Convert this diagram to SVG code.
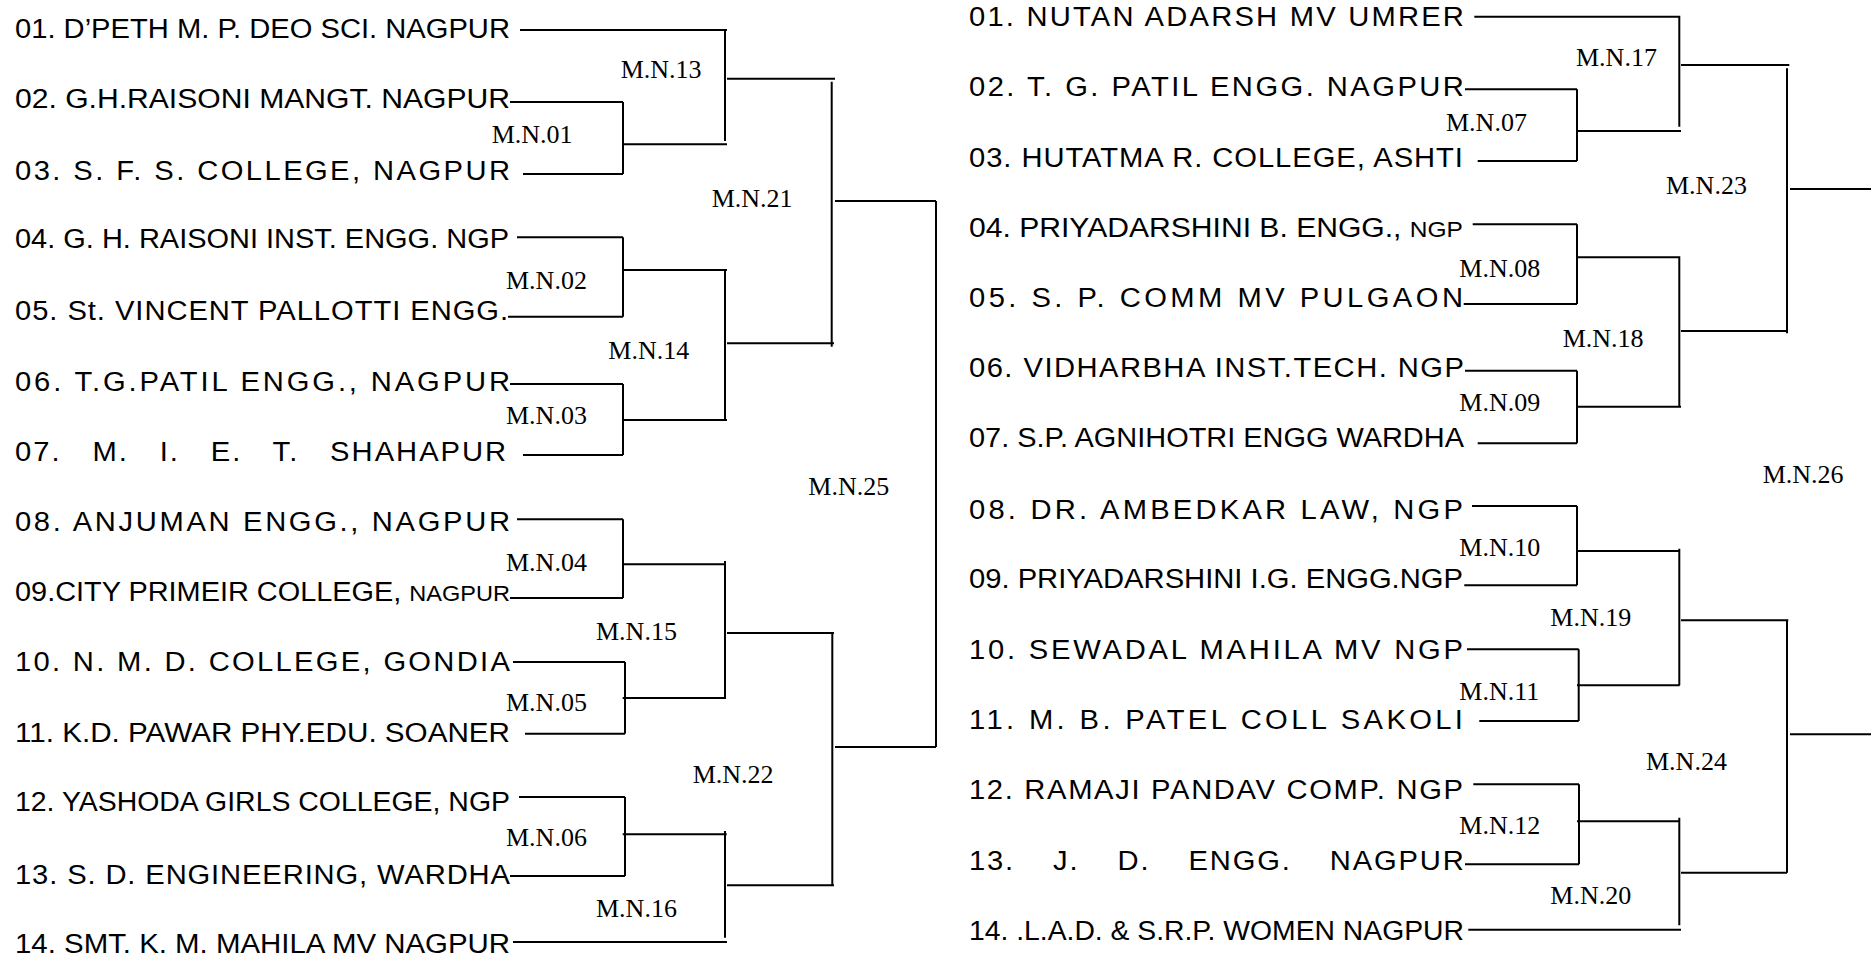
<svg xmlns="http://www.w3.org/2000/svg" width="1871" height="957" viewBox="0 0 1871 957">
<style>
.t{font-family:"Liberation Sans",Arial,sans-serif;font-size:27px;fill:#000}
.s{font-size:22px}
.m{font-family:"Liberation Serif","Times New Roman",serif;font-size:26px;fill:#000}
#connectors path{stroke:#000;stroke-width:2;fill:none}
</style>
<rect width="1871" height="957" fill="#fff"/>
<g id="connectors">
<path d="M520 30H727M725 30V141"/>
<path d="M510 102H623M523 174H623M623 102V174M623 144.3H727"/>
<path d="M727 78.7H835M831.7 81.7V346.7M835 201H936"/>
<path d="M517 237.3H623M508 316.7H623M623 237.3V316.7M623 270H727M725 270V420M727 343.3H834"/>
<path d="M510 384H623M523 455H623M623 384V455M623 420H727"/>
<path d="M936 201V747"/>
<path d="M517 519.3H623M510 598H623M623 519.3V598M623 564.3H726M725 561V698.7M727 633H834"/>
<path d="M513 662H625M525 733.7H625M625 662V733.7M622.7 698H726"/>
<path d="M832.3 633V885.3M835 747H936"/>
<path d="M519 797H625M510 876H625M625 797V876M622.7 834.3H726.7M725 831V937.7M727 885.3H834"/>
<path d="M513 942H727"/>
<path d="M1474.3 16.7H1680.3M1679.3 16.7V126.7M1681 65H1789.3"/>
<path d="M1465 89.3H1577M1477.7 161H1577M1577 89.3V161M1577 131H1681"/>
<path d="M1787 68.3V333.3M1790 189H1871"/>
<path d="M1472.7 224.3H1577M1463.7 304H1577M1577 224.3V304M1577 257.3H1680.3M1679.3 257.3V406.7M1681 331H1787.7"/>
<path d="M1465 370.7H1577M1477.7 443.3H1577M1577 370.7V443.3M1577 406.7H1681"/>
<path d="M1472 506H1577M1464.3 585.3H1577M1577 506V585.3M1577 551H1679.7M1679.3 548.7V685.3M1681 620.3H1788.3"/>
<path d="M1467 649.3H1578.7M1479.3 721H1578.7M1578.7 649.3V721M1577 685.3H1679.7"/>
<path d="M1787 620.3V872.7M1790 734.3H1871"/>
<path d="M1473.3 784.3H1579M1465 864.3H1579M1579 784.3V864.3M1577 821.3H1679.7M1679.3 817.7V925.3M1681 872.7H1787"/>
<path d="M1468.3 929.7H1681"/>
</g>
<g id="team-L01"><text class="t" transform="scale(1.08 1)" x="13.89" y="38.5" textLength="458.3" lengthAdjust="spacingAndGlyphs">01. D’PETH M. P. DEO SCI. NAGPUR</text></g>
<g id="team-L02"><text class="t" transform="scale(1.08 1)" x="13.89" y="108.5" textLength="458.3" lengthAdjust="spacingAndGlyphs">02. G.H.RAISONI MANGT. NAGPUR</text></g>
<g id="team-L03"><text class="t" transform="scale(1.08 1)" x="13.89" y="180" textLength="458.3" lengthAdjust="spacing">03. S. F. S. COLLEGE, NAGPUR</text></g>
<g id="team-L04"><text class="t" transform="scale(1.08 1)" x="13.89" y="248.5" textLength="457.4" lengthAdjust="spacingAndGlyphs">04. G. H. RAISONI INST. ENGG. NGP</text></g>
<g id="team-L05"><text class="t" transform="scale(1.08 1)" x="13.89" y="320" textLength="456.5" lengthAdjust="spacing">05. St. VINCENT PALLOTTI ENGG.</text></g>
<g id="team-L06"><text class="t" transform="scale(1.08 1)" x="13.89" y="390.7" textLength="458.3" lengthAdjust="spacing">06. T.G.PATIL ENGG., NAGPUR</text></g>
<g id="team-L07"><text class="t" transform="scale(1.08 1)" x="13.89" y="460.7" letter-spacing="1.86" word-spacing="19.2">07. M. I. E. T. SHAHAPUR</text></g>
<g id="team-L08"><text class="t" transform="scale(1.08 1)" x="13.89" y="531.3" textLength="458.3" lengthAdjust="spacing">08. ANJUMAN ENGG., NAGPUR</text></g>
<g id="team-L09"><text class="t" transform="scale(1.08 1)" x="13.89" y="601" textLength="458.3" lengthAdjust="spacingAndGlyphs">09.CITY PRIMEIR COLLEGE, <tspan class="s">NAGPUR</tspan></text></g>
<g id="team-L10"><text class="t" transform="scale(1.08 1)" x="13.89" y="671.3" textLength="458.3" lengthAdjust="spacing">10. N. M. D. COLLEGE, GONDIA</text></g>
<g id="team-L11"><text class="t" transform="scale(1.08 1)" x="13.89" y="742" textLength="458.3" lengthAdjust="spacingAndGlyphs">11. K.D. PAWAR PHY.EDU. SOANER</text></g>
<g id="team-L12"><text class="t" transform="scale(1.08 1)" x="13.89" y="811.3" textLength="458.3" lengthAdjust="spacingAndGlyphs">12. YASHODA GIRLS COLLEGE, NGP</text></g>
<g id="team-L13"><text class="t" transform="scale(1.08 1)" x="13.89" y="883.7" textLength="458.3" lengthAdjust="spacing">13. S. D. ENGINEERING, WARDHA</text></g>
<g id="team-L14"><text class="t" transform="scale(1.08 1)" x="13.89" y="953" textLength="458.3" lengthAdjust="spacingAndGlyphs">14. SMT. K. M. MAHILA MV NAGPUR</text></g>
<g id="team-R01"><text class="t" transform="scale(1.08 1)" x="897.2" y="26" textLength="458.3" lengthAdjust="spacing">01. NUTAN ADARSH MV UMRER</text></g>
<g id="team-R02"><text class="t" transform="scale(1.08 1)" x="897.2" y="96" textLength="458.3" lengthAdjust="spacing">02. T. G. PATIL ENGG. NAGPUR</text></g>
<g id="team-R03"><text class="t" transform="scale(1.08 1)" x="897.2" y="166.7" textLength="457.4" lengthAdjust="spacing">03. HUTATMA R. COLLEGE, ASHTI</text></g>
<g id="team-R04"><text class="t" transform="scale(1.08 1)" x="897.2" y="236.7" textLength="457.4" lengthAdjust="spacingAndGlyphs">04. PRIYADARSHINI B. ENGG., <tspan class="s">NGP</tspan></text></g>
<g id="team-R05"><text class="t" transform="scale(1.08 1)" x="897.2" y="307.3" textLength="457.4" lengthAdjust="spacing">05. S. P. COMM MV PULGAON</text></g>
<g id="team-R06"><text class="t" transform="scale(1.08 1)" x="897.2" y="376.7" textLength="458.3" lengthAdjust="spacing">06. VIDHARBHA INST.TECH. NGP</text></g>
<g id="team-R07"><text class="t" transform="scale(1.08 1)" x="897.2" y="446.7" textLength="458.3" lengthAdjust="spacingAndGlyphs">07. S.P. AGNIHOTRI ENGG WARDHA</text></g>
<g id="team-R08"><text class="t" transform="scale(1.08 1)" x="897.2" y="518.7" textLength="457.4" lengthAdjust="spacing">08. DR. AMBEDKAR LAW, NGP</text></g>
<g id="team-R09"><text class="t" transform="scale(1.08 1)" x="897.2" y="588" textLength="457.4" lengthAdjust="spacingAndGlyphs">09. PRIYADARSHINI I.G. ENGG.NGP</text></g>
<g id="team-R10"><text class="t" transform="scale(1.08 1)" x="897.2" y="658.7" textLength="457.4" lengthAdjust="spacing">10. SEWADAL MAHILA MV NGP</text></g>
<g id="team-R11"><text class="t" transform="scale(1.08 1)" x="897.2" y="729.3" textLength="457.4" lengthAdjust="spacing">11. M. B. PATEL COLL SAKOLI</text></g>
<g id="team-R12"><text class="t" transform="scale(1.08 1)" x="897.2" y="798.7" textLength="457.4" lengthAdjust="spacing">12. RAMAJI PANDAV COMP. NGP</text></g>
<g id="team-R13"><text class="t" transform="scale(1.08 1)" x="897.2" y="870.3" letter-spacing="1.7" word-spacing="26.1">13. J. D. ENGG. NAGPUR</text></g>
<g id="team-R14"><text class="t" transform="scale(1.08 1)" x="897.2" y="940.3" textLength="458.3" lengthAdjust="spacingAndGlyphs">14. .L.A.D. &amp; S.R.P. WOMEN NAGPUR</text></g>
<g id="mn-01"><text class="m" x="491.7" y="142.7">M.N.01</text></g>
<g id="mn-02"><text class="m" x="506" y="289.3">M.N.02</text></g>
<g id="mn-03"><text class="m" x="506" y="424">M.N.03</text></g>
<g id="mn-04"><text class="m" x="506" y="571">M.N.04</text></g>
<g id="mn-05"><text class="m" x="506" y="711">M.N.05</text></g>
<g id="mn-06"><text class="m" x="506" y="846.3">M.N.06</text></g>
<g id="mn-13"><text class="m" x="620.7" y="78.3">M.N.13</text></g>
<g id="mn-14"><text class="m" x="608.3" y="359.3">M.N.14</text></g>
<g id="mn-15"><text class="m" x="596" y="639.7">M.N.15</text></g>
<g id="mn-16"><text class="m" x="596" y="917">M.N.16</text></g>
<g id="mn-21"><text class="m" x="711.7" y="207.3">M.N.21</text></g>
<g id="mn-22"><text class="m" x="692.7" y="783">M.N.22</text></g>
<g id="mn-25"><text class="m" x="808.3" y="495.3">M.N.25</text></g>
<g id="mn-07"><text class="m" x="1446" y="130.7">M.N.07</text></g>
<g id="mn-08"><text class="m" x="1459.3" y="276.7">M.N.08</text></g>
<g id="mn-09"><text class="m" x="1459.3" y="410.7">M.N.09</text></g>
<g id="mn-10"><text class="m" x="1459.3" y="556.3">M.N.10</text></g>
<g id="mn-11"><text class="m" x="1459.3" y="699.7">M.N.11</text></g>
<g id="mn-12"><text class="m" x="1459.3" y="833.7">M.N.12</text></g>
<g id="mn-17"><text class="m" x="1576" y="65.7">M.N.17</text></g>
<g id="mn-18"><text class="m" x="1562.7" y="346.7">M.N.18</text></g>
<g id="mn-19"><text class="m" x="1550.3" y="626.3">M.N.19</text></g>
<g id="mn-20"><text class="m" x="1550.3" y="903.7">M.N.20</text></g>
<g id="mn-23"><text class="m" x="1666" y="194.3">M.N.23</text></g>
<g id="mn-24"><text class="m" x="1646" y="770.3">M.N.24</text></g>
<g id="mn-26"><text class="m" x="1762.7" y="482.5">M.N.26</text></g>
</svg>
